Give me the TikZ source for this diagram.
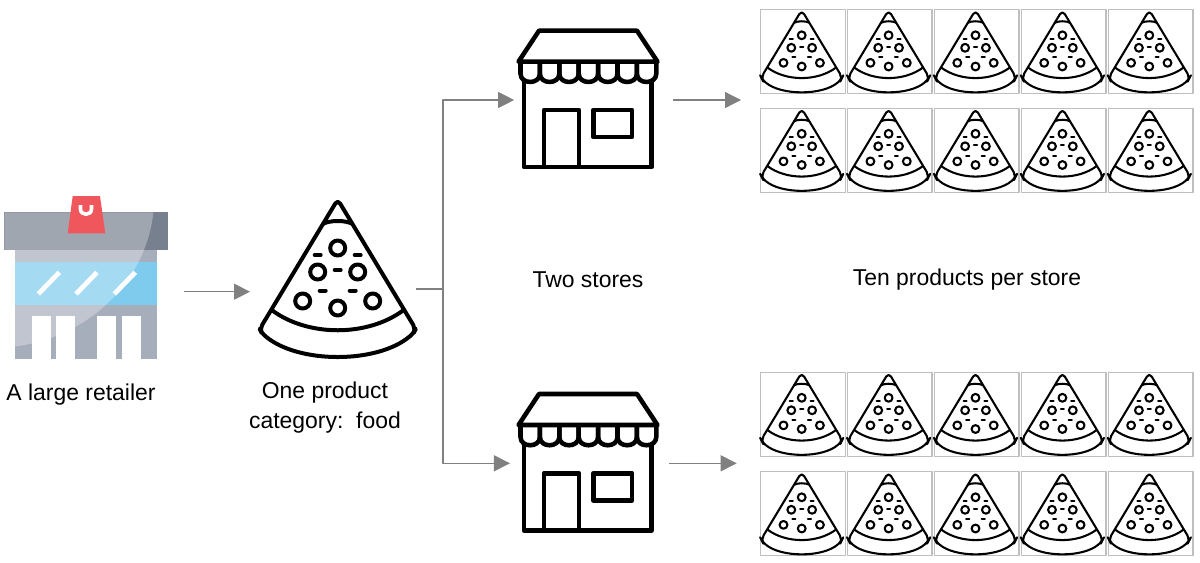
\documentclass[tikz,border=0pt]{standalone}
\usepackage{fontspec}
\setmainfont{Liberation Sans}
\usetikzlibrary{arrows.meta}

\definecolor{roofgray}{HTML}{76808F}
\definecolor{wallgray}{HTML}{A6ADBB}
\definecolor{glassblue}{HTML}{7FCBEE}
\definecolor{bagred}{HTML}{F0575C}
\definecolor{linkgray}{HTML}{808080}
\definecolor{cellgray}{HTML}{BFBFBF}

\tikzset{
  pics/pizza/.style={code={
    % outline and crust
    \draw[rounded corners=3.5] (0,1.5) -- (-78,131) -- (-76,135)
      .. controls (-40,166) and (40,166) .. (76,135) -- (78,131) -- cycle;
    \draw (-66,112) .. controls (-30,139) and (30,139) .. (66,112);
    \draw (-15,26) .. controls (-8,22) and (8,22) .. (15,26);
    % toppings
    \foreach \tx/\ty in {0/50, -20/74, 20/74, -35/103, 0/110, 35/103}
      \draw (\tx,\ty) circle[radius=7.5];
    \foreach \tx/\ty in {-20/57, 20/57, 0/72, -15/92.5, 15/92.5}
      \draw[line cap=round] (\tx-3,\ty) -- (\tx+3,\ty);
  }},
  pics/store/.style={code={
    % roof, awning and walls
    \draw (-49,0) -- (49,0) -- (69.5,31) -- (-69.5,31) -- cycle;
    \foreach \i in {0,...,6}
      \draw ({-67.5+19.4*\i},31) -- ({-67.5+19.4*\i},43)
        .. controls ({-67.5+19.4*\i},54) and ({-48.1+19.4*\i},54) .. ({-48.1+19.4*\i},43)
        -- ({-48.1+19.4*\i},31);
    \draw (-64,50) -- (-64,136.3) -- (63.7,136.3) -- (63.7,50);
    % door and window
    \draw (-44,136.3) -- (-44,79.3) -- (-9,79.3) -- (-9,136.3);
    \draw (5.3,79.3) rectangle (44,106.3);
  }}
}

\begin{document}
\begin{tikzpicture}[x=0.75pt, y=-0.75pt, line join=round]
  \tikzstyle{slot} = [inner sep=0pt, outer sep=0pt, minimum height=60pt]
  \tikzstyle{caption} = [inner sep=0pt, align=center, font=\fontsize{17.2}{22.5}\selectfont]
  \tikzstyle{cell} = [draw=cellgray, line width=1.1pt, inner sep=0pt,
    minimum width=63.4pt, minimum height=63pt, anchor=north west]
  \tikzstyle{link} = [draw=linkgray, line width=0.95pt, -{Triangle[length=12pt, width=12pt]}]
  \tikzstyle{bigicon} = [line width=3pt]
  \tikzstyle{smallicon} = [scale=0.52, line width=1.55pt]

  \useasboundingbox (0,0) rectangle (1200,562);

  % Retailer building
  \fill[roofgray] (4.3,212.3) rectangle (167.7,250);
  \fill[wallgray] (15.3,250) rectangle (156.7,359);
  \fill[glassblue] (15.3,261.7) rectangle (156.7,305);
  \fill[white, opacity=0.3] (4.3,212.3) -- (153.3,212.3)
    .. controls (148,270) and (100,335) .. (15.3,346.5) -- (4.3,346.5) -- cycle;
  \foreach \dx in {31.7, 56, 97.3, 121.7}
    \fill[white] (\dx,315.7) rectangle (\dx+19,359);
  \foreach \gx in {38.3, 76, 114.3}
    \draw[white, line width=3.6pt] (\gx,294) -- (\gx+21,272.3);
  \fill[bagred] (72.7,196) -- (100,196) -- (105.3,233.3) -- (67.7,233.3) -- cycle;
  \draw[white, line width=2.7pt] (80.5,205) -- (80.5,209)
    .. controls (80.5,216) and (91.5,216) .. (91.5,209) -- (91.5,205);

  % Define nodes
  \node[slot, minimum width=135pt] (retailer) at (94,291.7) {};
  \node[slot, minimum width=124.5pt] (category) at (333,289) {};
  \node[slot, minimum width=119.3pt] (storeA) at (593.7,100) {};
  \node[slot, minimum width=119.5pt] (storeB) at (589.6,463.3) {};
  \node[slot, anchor=west] (shelfA) at (741,100) {};
  \node[slot, anchor=west] (shelfB) at (736.7,463.3) {};
  \coordinate (fork) at (443,289);

  % Icons
  \pic[bigicon] at (337.7,198) {pizza};
  \pic[line width=3.4pt] at (588,30.7) {store};
  \pic[line width=3.4pt] at (588,394) {store};

  % Ten products per store
  \foreach \r/\rowtop in {1/9, 2/107.5, 3/371.5, 4/471}
    \foreach \c in {0,...,4} {
      \node[cell] (cell-\r-\c) at ({760+86.9*\c},\rowtop) {};
      \pic[smallicon] at ({801.7+86.9*\c},{\rowtop+0.3}) {pizza};
    }

  % Connectors
  \path[link] (retailer.east) -- (category.west |- retailer.east);
  \draw[linkgray, line width=0.95pt] (category.east) -- (fork);
  \path[link] (fork) |- (storeA.west);
  \path[link] (fork) |- (storeB.west);
  \path[link] (storeA.east) -- (shelfA.west);
  \path[link] (storeB.east) -- (shelfB.west);

  % Labels
  \node[caption] (retailerlabel) at (81,395) {A large retailer};
  \node[caption] (categorylabel) at (325,408) {One product\\category:\ \ food};
  \node[caption] (storeslabel) at (588,280) {Two stores};
  \node[caption] (productslabel) at (967,280) {Ten products per store};
\end{tikzpicture}
\end{document}
